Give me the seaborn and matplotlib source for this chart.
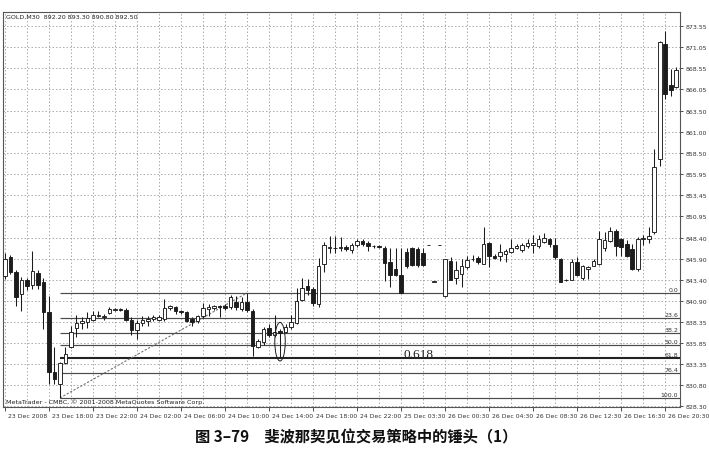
import numpy as np
import pandas as pd
import matplotlib
matplotlib.use("Agg")
import matplotlib.pyplot as plt
import seaborn as sns
from matplotlib.patches import Ellipse
from matplotlib.transforms import ScaledTranslation

# ---------------- data (GOLD, M30) ----------------
opens = [843.8, 846.1, 844.3, 841.7, 843.3, 842.7, 844.2, 843.1, 839.5, 832.4,
         830.9, 833.4, 835.4, 837.6, 838.2, 838.3, 838.6, 839.1, 838.9, 839.4,
         839.8, 839.9, 839.8, 838.6, 837.4, 838.2, 838.4, 838.7, 838.6, 838.7,
         840.0, 840.1, 839.6, 839.5, 838.7, 838.4, 839.0, 839.9, 840.0, 840.2,
         840.3, 840.1, 840.7, 839.9, 840.7, 839.7, 835.4, 835.9, 837.6, 836.8,
         837.3, 837.2, 837.7, 838.2, 841.0, 842.6, 842.3, 840.5, 845.2, 847.2,
         847.1, 847.2, 847.3, 846.9, 847.5, 848.0, 847.8, 847.4, 847.35, 847.2,
         845.5, 844.7, 843.9, 846.7, 847.1, 847.0, 846.6, 847.5, 843.15, 847.5,
         841.4, 845.65, 843.6, 844.0, 844.85, 845.8, 846.0, 845.3, 847.75, 846.25,
         846.2, 846.4, 846.7, 847.2, 846.9, 847.4, 847.5, 847.4, 847.85, 848.2,
         847.5, 845.9, 843.4, 843.4, 845.5, 843.55, 844.7, 845.05, 845.2, 847.1,
         848.0, 849.2, 848.2, 847.6, 847.0, 844.65, 848.2, 848.2, 849.1, 857.75,
         871.45, 866.55, 866.3]
highs = [846.5, 846.3, 844.5, 843.7, 843.6, 846.8, 844.55, 843.6, 841.45, 835.4,
         833.6, 835.4, 837.9, 839.2, 838.9, 839.5, 839.6, 839.6, 839.3, 840.1,
         840.0, 840.0, 840.0, 838.9, 838.6, 839.0, 839.1, 839.2, 839.2, 841.1,
         840.4, 840.3, 839.8, 839.7, 838.9, 839.2, 840.6, 840.5, 840.4, 840.4,
         840.5, 841.6, 841.4, 841.3, 841.8, 839.9, 836.35, 837.8, 838.1, 839.2,
         837.5, 838.1, 839.2, 842.4, 843.6, 843.5, 842.5, 846.0, 847.85, 848.6,
         848.6, 848.5, 847.5, 847.7, 848.2, 848.2, 848.0, 847.5, 847.45, 847.4,
         847.2, 847.2, 847.2, 847.2, 847.3, 847.3, 847.2, 847.5, 843.15, 847.5,
         845.9, 846.1, 845.6, 845.9, 846.25, 846.3, 846.2, 849.65, 847.9, 846.4,
         847.6, 847.0, 848.2, 847.6, 847.7, 848.2, 848.7, 848.7, 848.95, 848.4,
         848.35, 846.0, 843.5, 845.85, 846.05, 845.1, 845.05, 845.8, 849.2, 849.0,
         849.6, 849.4, 848.3, 848.15, 847.6, 848.45, 848.7, 849.6, 858.95, 871.8,
         873.0, 868.5, 868.7]
lows = [843.5, 844.0, 840.2, 839.7, 842.2, 842.3, 842.3, 837.5, 830.9, 830.9,
        829.3, 833.3, 835.2, 836.6, 837.5, 837.6, 838.5, 838.9, 838.6, 839.3,
        839.7, 839.7, 838.5, 836.8, 836.35, 837.9, 837.9, 838.5, 838.4, 838.5,
        839.8, 839.3, 839.3, 838.3, 837.9, 838.2, 838.8, 839.0, 839.8, 838.9,
        839.8, 839.9, 839.8, 839.7, 839.5, 834.3, 835.2, 835.6, 836.5, 836.6,
        834.1, 837.0, 837.5, 838.1, 840.9, 841.6, 840.2, 840.1, 844.25, 846.6,
        846.6, 846.8, 846.8, 846.6, 847.3, 847.4, 846.8, 847.2, 847.2, 843.2,
        842.45, 843.8, 841.8, 844.8, 845.0, 844.9, 845.0, 847.5, 843.15, 847.5,
        841.3, 843.3, 842.9, 842.5, 844.7, 845.6, 845.3, 845.2, 844.9, 845.8,
        845.6, 845.5, 846.5, 847.0, 846.7, 847.2, 846.6, 847.2, 847.7, 847.3,
        845.9, 843.05, 843.2, 843.3, 843.8, 843.4, 843.5, 845.0, 845.1, 846.85,
        847.9, 846.2, 846.2, 846.1, 844.5, 844.45, 847.45, 847.8, 848.8, 856.9,
        864.9, 865.3, 866.2]
closes = [845.9, 844.3, 841.3, 843.3, 842.6, 844.4, 842.7, 839.5, 832.4, 831.6,
          833.4, 834.5, 837.2, 838.2, 838.4, 838.8, 839.2, 839.2, 839.0, 839.9,
          839.9, 839.8, 838.6, 837.4, 838.2, 838.6, 838.7, 838.9, 838.9, 840.0,
          840.2, 839.6, 839.5, 838.5, 838.3, 839.0, 840.0, 840.1, 840.2, 840.1,
          840.0, 841.3, 840.1, 840.7, 839.8, 835.5, 836.1, 837.5, 836.8, 837.2,
          837.0, 837.8, 838.3, 840.9, 842.4, 842.2, 840.6, 845.0, 847.5, 847.3,
          847.2, 847.3, 847.0, 847.5, 848.0, 847.6, 847.4, 847.35, 847.3, 845.4,
          843.9, 843.95, 841.8, 845.0, 845.1, 845.1, 845.1, 847.5, 843.15, 847.5,
          845.9, 843.4, 844.5, 845.05, 845.75, 845.9, 845.5, 847.6, 846.25, 845.95,
          846.7, 846.85, 847.1, 847.4, 847.5, 847.8, 847.8, 848.2, 848.3, 847.65,
          846.1, 843.15, 843.3, 845.45, 843.9, 845.05, 844.9, 845.65, 848.2, 848.1,
          849.2, 847.4, 847.25, 846.25, 844.65, 848.25, 848.3, 848.6, 856.8, 871.7,
          865.5, 866.0, 868.3]

time_labels = ["23 Dec 2008", "23 Dec 18:00", "23 Dec 22:00", "24 Dec 02:00",
               "24 Dec 06:00", "24 Dec 10:00", "24 Dec 14:00", "24 Dec 18:00",
               "24 Dec 22:00", "25 Dec 03:30", "26 Dec 00:30", "26 Dec 04:30",
               "26 Dec 08:30", "26 Dec 12:30", "26 Dec 16:30", "26 Dec 20:30"]
price_ticks = [873.55, 871.05, 868.55, 866.05, 863.50, 861.00, 858.50, 855.95,
               853.45, 850.95, 848.40, 845.90, 843.40, 840.90, 838.35, 835.85,
               833.35, 830.80, 828.30]
fib_names = ["0.0", "23.6", "38.2", "50.0", "61.8", "76.4", "100.0"]
fib_ratios = [0.0, 0.236, 0.382, 0.5, 0.618, 0.764, 1.0]
fib_low_bar = 10
fib_high_bar = 44
hammer_bar = 50

header_text = "GOLD,M30  892.20 893.30 890.80 892.50"
footer_text = "MetaTrader - CMBC, \u00a9 2001-2008 MetaQuotes Software Corp."
caption = "图 3–79　斐波那契见位交易策略中的锤头（1）"

# ---------------- figure ----------------
sns.set_theme(style="white")
plt.rcParams['font.family'] = ['DejaVu Sans', 'Noto Sans CJK SC']

fig = plt.figure(figsize=(7.09, 4.52), dpi=100)
ax = fig.add_axes([3.3 / 709, 1 - 408 / 452, (680 - 3.3) / 709, (408 - 13) / 452])

df = pd.DataFrame({"o": opens, "h": highs, "l": lows, "c": closes})
df["i"] = np.arange(len(df))
xmin, xmax = -0.3, 122.7
ax.set_xlim(xmin, xmax)
ax.set_ylim(828.22, 875.25)

ink = "#1c1c1c"
# grid
ax.set_yticks(price_ticks)
ax.set_yticklabels([f"{v:.2f}" for v in price_ticks])
ax.set_xticks(np.arange(0, 121, 8))
ax.set_xticklabels(time_labels)
ax.set_xticks(np.arange(4, 121, 8), minor=True)
ax.grid(True, which="both", axis="x", color="#a0a0a0", lw=0.6, ls=(0, (1.8, 2.4)))
ax.grid(True, which="major", axis="y", color="#a0a0a0", lw=0.6, ls=(0, (1.8, 2.4)))
ax.set_axisbelow(True)

# candles
up = df.c >= df.o
bottom = np.minimum(df.o, df.c)
height = np.maximum(np.abs(df.c - df.o), 0.05)
ax.vlines(df.i, df.l, df.h, color=ink, lw=0.75, zorder=3)
ax.bar(df.i[up], height[up], bottom=bottom[up], width=0.68, color="white",
       edgecolor=ink, linewidth=0.65, zorder=4)
ax.bar(df.i[~up], height[~up], bottom=bottom[~up], width=0.68, color=ink,
       edgecolor=ink, linewidth=0.65, zorder=4)

# fibonacci
fib_hi = highs[fib_high_bar]
fib_lo = lows[fib_low_bar]
for name, r in zip(fib_names, fib_ratios):
    lvl = fib_hi - r * (fib_hi - fib_lo)
    lw = 1.5 if name == "61.8" else 0.85
    col = "#222222" if name == "61.8" else "#4a4a4a"
    ax.hlines(lvl, fib_low_bar, xmax, color=col, lw=lw, zorder=2)
    ax.text(xmax - 0.35, lvl + 0.12, name, ha="right", va="bottom",
            fontsize=4.5, color="#333333", zorder=6)

trend = pd.DataFrame({"x": [fib_low_bar, fib_high_bar], "y": [fib_lo, fib_hi]})
sns.lineplot(data=trend, x="x", y="y", ax=ax, color="#707070", lw=0.8,
             linestyle=(0, (2, 1.5)), zorder=2)
ax.set_xlabel("")
ax.set_ylabel("")

lvl618 = fib_hi - 0.618 * (fib_hi - fib_lo)
ax.text(75.1, lvl618 + 0.05, "0.618", family="Liberation Serif", fontsize=9.5,
        ha="center", va="baseline", color="#222222", zorder=6)

ell = Ellipse((hammer_bar, 836.0), width=1.9, height=4.6, fill=False,
              edgecolor=ink, lw=0.7, zorder=5)
ax.add_patch(ell)

# axes style
for s in ax.spines.values():
    s.set_color("#555555")
    s.set_linewidth(0.8)
ax.yaxis.tick_right()
ax.tick_params(axis="y", which="major", length=2.5, width=0.6, pad=1.5,
               labelsize=4.5, colors="#333333", right=True, left=False)
ax.tick_params(axis="x", which="major", length=3, width=0.6, pad=1.5,
               labelsize=4.4, colors="#333333", bottom=True)
ax.tick_params(axis="x", which="minor", length=0)
offset = ScaledTranslation(2 / 72, 0, fig.dpi_scale_trans)
for lab in ax.get_xticklabels():
    lab.set_horizontalalignment("left")
    lab.set_transform(lab.get_transform() + offset)

fig.text(6 / 709, 1 - 17 / 452, header_text, fontsize=4.6, color="#222222",
         va="center", ha="left")
fig.text(6 / 709, 1 - 402 / 452, footer_text, fontsize=4.6, color="#222222",
         va="center", ha="left")
fig.text(356 / 709, 1 - 437 / 452, caption, ha="center", va="center",
         fontsize=11, fontweight="bold", color="#111111",
         family=["Noto Sans CJK SC", "DejaVu Sans"])

fig.savefig("out.png", dpi=100)
